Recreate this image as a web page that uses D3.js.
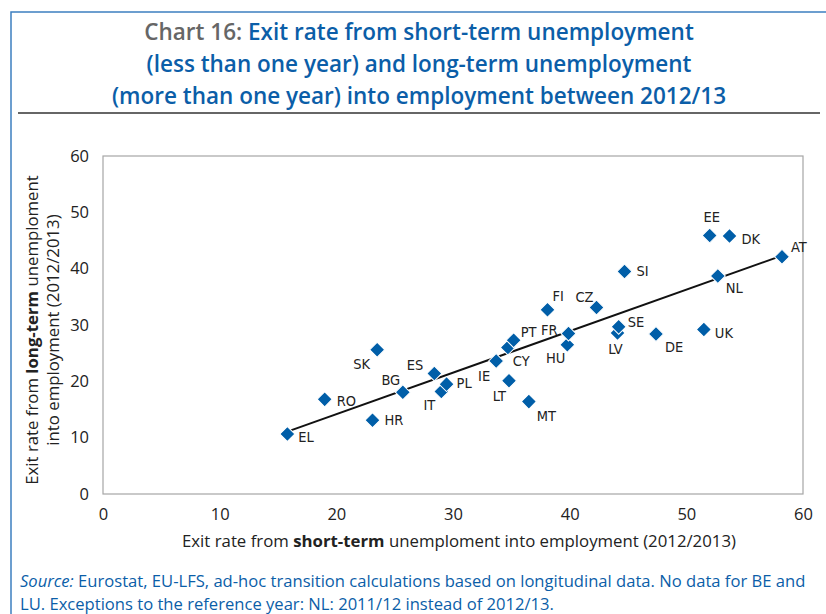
<!DOCTYPE html>
<html><head><meta charset="utf-8">
<script src="https://cdn.jsdelivr.net/npm/d3@7"></script>
<style>
html,body{margin:0;padding:0;background:#fff;}
svg{display:block;}
</style></head>
<body>
<svg id="c" width="826" height="614"></svg>
<script>
// ---- data ----
const countries = ["EL","RO","HR","SK","BG","ES","IT","PL","IE","CY","PT","LT","MT","FI","HU","FR","CZ","SI","LV","SE","DE","UK","EE","DK","NL","AT"];
const shortTerm = [15.8,19.0,23.1,23.5,25.7,28.4,29.0,29.45,33.7,34.7,35.2,34.8,36.5,38.1,39.8,39.9,42.3,44.7,44.1,44.2,47.4,51.5,52.0,53.7,52.7,58.2];
const longTerm  = [10.65,16.8,13.1,25.6,18.05,21.4,18.2,19.5,23.6,26.0,27.3,20.1,16.4,32.7,26.5,28.5,33.1,39.5,28.6,29.7,28.4,29.2,45.9,45.8,38.7,42.1];
const xTicks = [0,10,20,30,40,50,60];
const yTicks = [0,10,20,30,40,50,60];

// label placement (layout only): dx, dy, anchor
const labelPos = {
  EL:[11,3,"start"], RO:[12,2,"start"], HR:[12,0,"start"], SK:[-7,14,"end"],
  BG:[-12,-12,"middle"], ES:[-11,-8,"end"], PL:[10,-1.5,"start"], IT:[-6,14,"end"],
  IE:[-6,15,"end"], CY:[5,13,"start"], PT:[7,-8,"start"], LT:[-3,15,"end"],
  MT:[8,14,"start"], FI:[5,-14,"start"], FR:[-11,-3,"end"], HU:[-2,13,"end"],
  CZ:[-3,-11,"end"], SI:[12,0,"start"], SE:[9,-5,"start"], LV:[-2,16,"middle"],
  DE:[9,13,"start"], UK:[11,3,"start"], EE:[2,-18,"middle"], DK:[12,3,"start"],
  NL:[8,12,"start"], AT:[9,-10,"start"]
};

const svg = d3.select("#c");
const blue = "#0b5ea8";
const markBlue = "#005ea8";
const axisFont = "'Open Sans', 'DejaVu Sans', sans-serif";
const narrow = "'Liberation Sans Narrow', 'DejaVu Sans Condensed', 'Open Sans', sans-serif";

// frame
svg.append("path").attr("d","M11,614 L11,12 L826,12").attr("fill","none")
  .attr("stroke","#3d7fc0").attr("stroke-width",1.5);
// title rule
svg.append("line").attr("x1",18).attr("x2",820).attr("y1",113).attr("y2",113)
  .attr("stroke","#333").attr("stroke-width",1.5);

// title
const titleLines = [
  [["Chart 16: ","#666"],["Exit rate from short-term unemployment",blue]],
  [["(less than one year) and long-term unemployment",blue]],
  [["(more than one year) into employment between 2012/13",blue]]
];
const tBase = [40,72,104];
titleLines.forEach((ln,i)=>{
  const t = svg.append("text").attr("x",419).attr("y",tBase[i]).attr("text-anchor","middle")
    .attr("font-family",axisFont).attr("font-weight",600).attr("font-size",22.5);
  ln.forEach(([s,c])=>t.append("tspan").attr("fill",c).text(s));
});

// scales
const x = d3.scaleLinear().domain([0,60]).range([103,803]);
const y = d3.scaleLinear().domain([0,60]).range([494,156]);

// plot box
svg.append("rect").attr("x",x(0)).attr("y",y(60)).attr("width",x(60)-x(0)).attr("height",y(0)-y(60))
  .attr("fill","none").attr("stroke","#a6a6a6").attr("stroke-width",1.2);

// axes (labels only)
const xa = svg.append("g").attr("transform",`translate(0,${y(0)})`)
  .call(d3.axisBottom(x).tickValues(xTicks).tickSize(0).tickPadding(14));
xa.select(".domain").remove();
xa.selectAll("text").attr("font-family",axisFont).attr("font-size",16.5).attr("fill","#222");
const ya = svg.append("g").attr("transform",`translate(${x(0)},0)`)
  .call(d3.axisLeft(y).tickValues(yTicks).tickSize(0).tickPadding(14));
ya.select(".domain").remove();
ya.selectAll("text").attr("font-family",axisFont).attr("font-size",16.5).attr("fill","#222");

// axis titles
const xt = svg.append("text").attr("x",459).attr("y",547).attr("text-anchor","middle")
  .attr("font-family",axisFont).attr("font-size",16.8).attr("fill","#222");
xt.append("tspan").text("Exit rate from ");
xt.append("tspan").attr("font-weight",700).text("short-term");
xt.append("tspan").text(" unemploment into employment (2012/2013)");

const yt = svg.append("g").attr("transform","translate(0,330) rotate(-90)");
const y1 = yt.append("text").attr("x",0).attr("y",38).attr("text-anchor","middle")
  .attr("font-family",axisFont).attr("font-size",16.8).attr("fill","#222");
y1.append("tspan").text("Exit rate from  ");
y1.append("tspan").attr("font-weight",700).text("long-term");
y1.append("tspan").text(" unemploment");
yt.append("text").attr("x",0).attr("y",59).attr("text-anchor","middle")
  .attr("font-family",axisFont).attr("font-size",16.8).attr("fill","#222")
  .text("into employment (2012/2013)");

// data records
const pts = countries.map((c,i)=>({c, sx:shortTerm[i], ly:longTerm[i]}));

// regression line
const mx = d3.mean(pts,d=>d.sx), my = d3.mean(pts,d=>d.ly);
const b = d3.sum(pts,d=>(d.sx-mx)*(d.ly-my))/d3.sum(pts,d=>(d.sx-mx)**2);
const a = my - b*mx;
const xmin = d3.min(pts,d=>d.sx), xmax = d3.max(pts,d=>d.sx);
svg.append("line").attr("x1",x(xmin)).attr("y1",y(a+b*xmin)).attr("x2",x(xmax)).attr("y2",y(a+b*xmax))
  .attr("stroke","#111").attr("stroke-width",2);

// markers
const sym = d3.symbol().type(d3.symbolSquare).size(112);
svg.append("g").selectAll("path").data(pts).join("path")
  .attr("d",sym)
  .attr("transform",d=>`translate(${x(d.sx)},${y(d.ly)}) rotate(45)`)
  .attr("fill",markBlue).attr("stroke","#fff").attr("stroke-width",1);

// labels
svg.append("g").selectAll("text").data(pts).join("text")
  .attr("x",d=>x(d.sx)+labelPos[d.c][0])
  .attr("y",d=>y(d.ly)+labelPos[d.c][1])
  .attr("text-anchor",d=>labelPos[d.c][2])
  .attr("dominant-baseline","central")
  .attr("font-family",narrow).attr("font-size",14.5).attr("fill","#222")
  .text(d=>d.c);

// source
const s1 = svg.append("text").attr("x",20).attr("y",587).attr("font-family",axisFont)
  .attr("font-size",16.6).attr("fill",blue);
s1.append("tspan").attr("font-style","italic").text("Source:");
s1.append("tspan").text(" Eurostat, EU-LFS, ad-hoc transition calculations based on longitudinal data. No data for BE and");
svg.append("text").attr("x",20).attr("y",610).attr("font-family",axisFont)
  .attr("font-size",16.6).attr("fill",blue)
  .text("LU. Exceptions to the reference year: NL: 2011/12 instead of 2012/13.");
</script>
</body></html>
